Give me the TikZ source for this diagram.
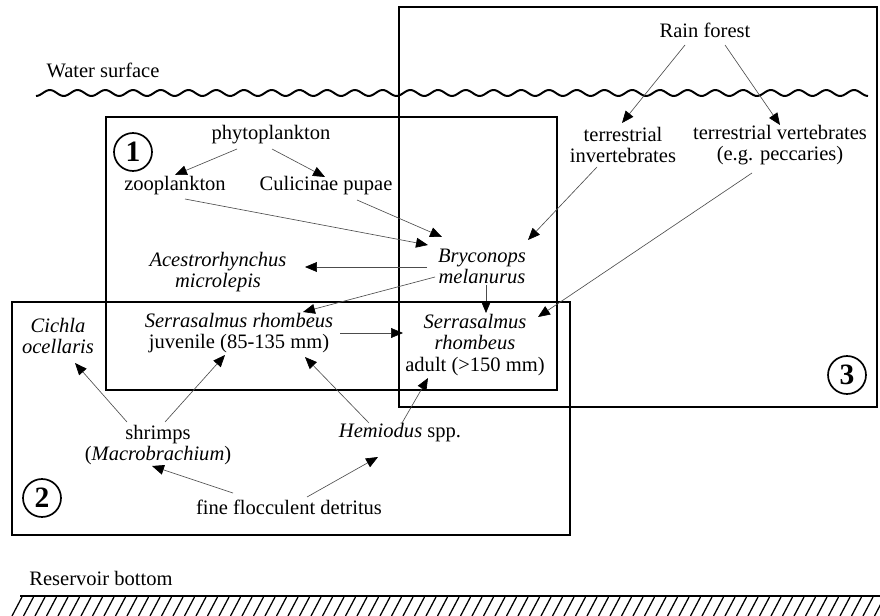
\documentclass[tikz,border=0pt]{standalone}
\usepackage{fontspec}
\setmainfont{Liberation Serif}
\usetikzlibrary{arrows.meta}
\tikzset{
    txt/.style={inner sep=0pt, align=center, font=\fontsize{14.6}{15}\selectfont},
    zone/.style={line width=1.6pt},
    feed/.style={black!70, line width=0.45pt, -{Triangle[length=8.5pt,width=7pt,color=black]}},
    zonenum/.style={circle, draw, line width=1.2pt, inner sep=0pt, minimum size=27pt,
        font=\fontsize{21}{21}\selectfont\bfseries}
}
\begin{document}
\begin{tikzpicture}[x=0.025cm, y=-0.025cm]
    \useasboundingbox (0,0) rectangle (880,616);
    % Draw the water surface and the reservoir bottom
    \node[txt] (water) at (103,70) {Water surface};
    \draw[line width=1.4pt] plot[domain=36:868, samples=400, smooth] (\x, {93+3*cos((\x-36)*12.982)});
    \node[txt] (resv) at (101,578) {Reservoir bottom};
    \draw[line width=1.1pt] (20,596) -- (880,596);
    \foreach \i in {0,...,75} {
        \draw[line width=0.9pt] (12+11.5*\i,616) -- (22+11.5*\i,597);
    }

    % Draw the three zones
    \draw[zone] (106,117) rectangle (557,390);
    \draw[zone] (12,302) rectangle (570,535);
    \draw[zone] (399,7) rectangle (877,407);
    \node[zonenum] (z1) at (133,152) {1};
    \node[zonenum] (z2) at (42,498) {2};
    \node[zonenum] (z3) at (847,375) {3};

    % Place the food items and the fishes
    \node[txt] (rain) at (705,30) {Rain forest};
    \node[txt] (phyto) at (271,135) {phytoplankton};
    \node[txt] (zoo) at (175,186) {zooplankton};
    \node[txt] (culic) at (326,186) {Culicinae pupae};
    \node[txt] (tinv) at (623,145) {terrestrial\\invertebrates};
    \node[txt] (tvert) at (780,145) {terrestrial vertebrates\\(e.g. peccaries)};
    \node[txt] (bryc) at (482,266) {\textit{Bryconops}\\\textit{melanurus}};
    \node[txt] (acest) at (218,272) {\textit{Acestrorhynchus}\\\textit{microlepis}};
    \node[txt] (cichla) at (58,336) {\textit{Cichla}\\\textit{ocellaris}};
    \node[txt] (juv) at (239,333) {\textit{Serrasalmus rhombeus}\\juvenile (85-135 mm)};
    \node[txt] (adult) at (475,345) {\textit{Serrasalmus}\\\textit{rhombeus}\\adult (>150 mm)};
    \node[txt] (shrimp) at (158,445) {shrimps\\(\textit{Macrobrachium})};
    \node[txt] (hemi) at (400,433) {\textit{Hemiodus} spp.};
    \node[txt] (detr) at (289,507) {fine flocculent detritus};

    % Draw who eats whom
    \draw[feed] ([shift={(-34,14)}]phyto.center) -- ([shift={(0,-11)}]zoo.center);
    \draw[feed] ([shift={(1,14)}]phyto.center) -- ([shift={(-1,-9)}]culic.center);
    \draw[feed] ([shift={(10,13)}]zoo.center) -- ([shift={(-54,-21)}]bryc.center);
    \draw[feed] ([shift={(31,14)}]culic.center) -- ([shift={(-40,-29)}]bryc.center);
    \draw[feed] ([shift={(-20,15)}]rain.center) -- ([shift={(-1,-22)}]tinv.center);
    \draw[feed] ([shift={(20,15)}]rain.center) -- ([shift={(0,-20)}]tvert.center);
    \draw[feed] ([shift={(-26,22)}]tinv.center) -- ([shift={(46,-26)}]bryc.center);
    \draw[feed] ([shift={(-28,28)}]tvert.center) -- ([shift={(63,-28)}]adult.center);
    \draw[feed] ([shift={(-55,1)}]bryc.center) -- ([shift={(87,-5)}]acest.center);
    \draw[feed] ([shift={(-47,11)}]bryc.center) -- ([shift={(64,-21)}]juv.center);
    \draw[feed] ([shift={(4,19)}]bryc.center) -- ([shift={(11,-32)}]adult.center);
    \draw[feed] ([shift={(101,0)}]juv.center) -- ([shift={(-72,-12)}]adult.center);
    \draw[feed] ([shift={(2,-10)}]hemi.center) -- ([shift={(-47,33)}]adult.center);
    \draw[feed] ([shift={(-31,-10)}]hemi.center) -- ([shift={(66,24)}]juv.center);
    \draw[feed] ([shift={(7,-23)}]shrimp.center) -- ([shift={(-14,22)}]juv.center);
    \draw[feed] ([shift={(-31,-23)}]shrimp.center) -- ([shift={(17,27)}]cichla.center);
    \draw[feed] ([shift={(-56,-14)}]detr.center) -- ([shift={(-6,21)}]shrimp.center);
    \draw[feed] ([shift={(18,-10)}]detr.center) -- ([shift={(-22,24)}]hemi.center);
\end{tikzpicture}
\end{document}
